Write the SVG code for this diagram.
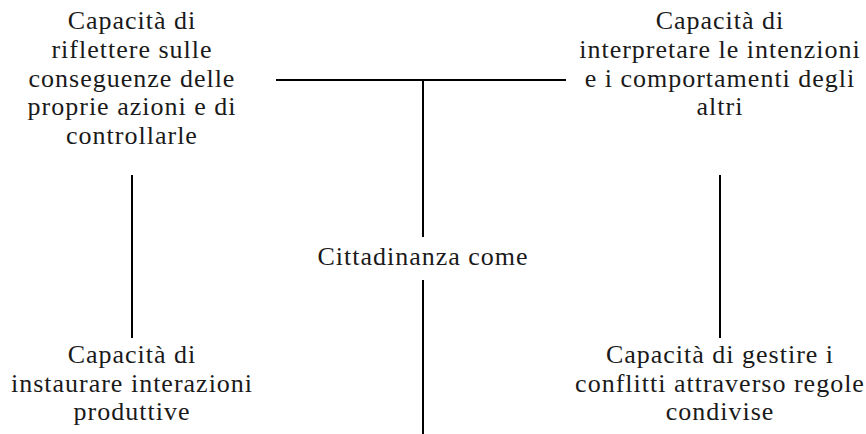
<svg xmlns="http://www.w3.org/2000/svg" width="866" height="434" viewBox="0 0 866 434">
<rect width="866" height="434" fill="#fff"/>
<g id="connectors" stroke="#000" stroke-width="2" fill="none">
<line x1="276" y1="80" x2="566" y2="80"/>
<line x1="423" y1="80" x2="423" y2="237"/>
<line x1="423" y1="280" x2="423" y2="434"/>
<line x1="132" y1="175" x2="132" y2="338"/>
<line x1="720" y1="175" x2="720" y2="338"/>
</g>
<g id="node-center"><text x="423" y="265" font-family="'Liberation Serif', serif" font-size="26" letter-spacing="1" fill="#1a1a1a" text-anchor="middle">Cittadinanza come</text></g>
<g id="node-top-left" font-family="'Liberation Serif', serif" font-size="26" letter-spacing="1" fill="#1a1a1a" text-anchor="middle">
<text x="132" y="29">Capacità di</text>
<text x="132" y="58">riflettere sulle</text>
<text x="132" y="87">conseguenze delle</text>
<text x="132" y="115">proprie azioni e di</text>
<text x="132" y="144">controllarle</text>
</g>
<g id="node-top-right" font-family="'Liberation Serif', serif" font-size="26" letter-spacing="1" fill="#1a1a1a" text-anchor="middle">
<text x="720" y="29">Capacità di</text>
<text x="720" y="58">interpretare le intenzioni</text>
<text x="720" y="87">e i comportamenti degli</text>
<text x="720" y="115">altri</text>
</g>
<g id="node-bottom-left" font-family="'Liberation Serif', serif" font-size="26" letter-spacing="1" fill="#1a1a1a" text-anchor="middle">
<text x="132" y="363">Capacità di</text>
<text x="132" y="392">instaurare interazioni</text>
<text x="132" y="420">produttive</text>
</g>
<g id="node-bottom-right" font-family="'Liberation Serif', serif" font-size="26" letter-spacing="1" fill="#1a1a1a" text-anchor="middle">
<text x="720" y="363">Capacità di gestire i</text>
<text x="720" y="392">conflitti attraverso regole</text>
<text x="720" y="420">condivise</text>
</g>
</svg>
